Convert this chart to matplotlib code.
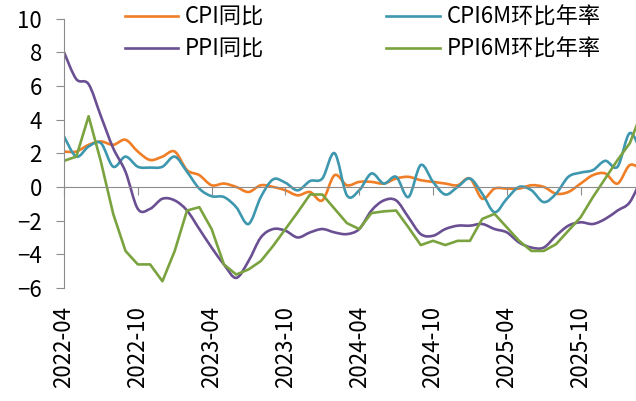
import numpy as np
import pandas as pd
import matplotlib
matplotlib.use('Agg')
import matplotlib.pyplot as plt
from matplotlib.path import Path
from matplotlib.patches import PathPatch
from matplotlib.lines import Line2D

plt.rcParams['font.family'] = ['Noto Sans CJK SC', 'DejaVu Sans']

months = list(pd.period_range('2022-04', periods=48, freq='M').strftime('%Y-%m'))

cpi_yoy = [2.1, 2.1, 2.5, 2.7, 2.5, 2.8, 2.1, 1.6, 1.8, 2.1,
           1.0, 0.7, 0.1, 0.2, 0.0, -0.3, 0.1, 0.0, -0.2, -0.5,
           -0.3, -0.8, 0.7, 0.1, 0.3, 0.3, 0.2, 0.5, 0.6, 0.4,
           0.3, 0.2, 0.1, 0.5, -0.7, -0.1, -0.1, -0.1, 0.1, 0.0,
           -0.4, -0.3, 0.2, 0.7, 0.8, 0.2, 1.3, 1.0]
ppi_yoy = [8.0, 6.4, 6.1, 4.2, 2.3, 0.9, -1.3, -1.3, -0.7, -0.8,
           -1.4, -2.5, -3.6, -4.6, -5.4, -4.4, -3.0, -2.5, -2.6, -3.0,
           -2.7, -2.5, -2.7, -2.8, -2.5, -1.4, -0.8, -0.8, -1.8, -2.8,
           -2.9, -2.5, -2.3, -2.3, -2.2, -2.5, -2.7, -3.3, -3.6, -3.6,
           -2.9, -2.3, -2.1, -2.2, -1.9, -1.4, -0.9, 0.6]
cpi_6m = [3.0, 1.8, 2.4, 2.6, 1.2, 1.8, 1.2, 1.15, 1.2, 1.8,
          0.9, -0.1, -0.55, -0.6, -1.2, -2.2, -0.6, 0.45, 0.25, -0.2,
          0.35, 0.5, 2.0, -0.5, -0.2, 0.8, 0.2, 0.6, -0.6, 1.3,
          0.3, -0.45, 0.0, 0.5, -0.4, -1.5, -0.7, 0.0, -0.2, -0.9,
          -0.4, 0.6, 0.85, 1.0, 1.55, 1.2, 3.2, 1.9]
ppi_6m = [1.55, 1.8, 4.2, 1.5, -1.6, -3.8, -4.6, -4.6, -5.6, -3.8,
          -1.4, -1.2, -2.5, -4.6, -5.2, -4.9, -4.4, -3.5, -2.5, -1.5,
          -0.45, -0.45, -1.3, -2.15, -2.5, -1.55, -1.45, -1.4, -2.4, -3.45,
          -3.2, -3.45, -3.2, -3.2, -1.9, -1.6, -2.4, -3.2, -3.8, -3.8,
          -3.4, -2.6, -1.8, -0.6, 0.5, 1.6, 2.6, 4.5]

c_cpi = '#F07E26'
c_ppi = '#6B4F93'
c_cpi6 = '#3D97AE'
c_ppi6 = '#7AA33F'


def smooth_path(xs, ys):
    # excel-style smoothed line as cubic bezier segments
    verts = [(xs[0], ys[0])]
    codes = [Path.MOVETO]
    n = len(xs)
    for i in range(n - 1):
        x0, y0 = xs[i], ys[i]
        x1, y1 = xs[i + 1], ys[i + 1]
        xp, yp = (xs[i - 1], ys[i - 1]) if i > 0 else (x0, y0)
        xn, yn = (xs[i + 2], ys[i + 2]) if i + 2 < n else (x1, y1)
        verts.append((x0 + (x1 - xp) / 6, y0 + (y1 - yp) / 6))
        verts.append((x1 - (xn - x0) / 6, y1 - (yn - y0) / 6))
        verts.append((x1, y1))
        codes += [Path.CURVE4] * 3
    return Path(verts, codes)


fig = plt.figure(figsize=(6.36, 4.01), dpi=100)
ax = fig.add_axes([64 / 636, 1 - 288 / 401, 1 - 64 / 636, (288 - 18.5) / 401])

x = np.arange(len(months))
lw = 1.9
for vals, col in [(cpi_yoy, c_cpi), (cpi_6m, c_cpi6), (ppi_yoy, c_ppi)]:
    ax.add_patch(PathPatch(smooth_path(x, vals), fill=False, edgecolor=col,
                           lw=lw, joinstyle='round', capstyle='round'))
ax.plot(x, ppi_6m, color=c_ppi6, lw=lw)

ax.set_xlim(0, 46.5)
ax.set_ylim(-6, 10)
ax.set_yticks(np.arange(-6, 11, 2))

for s in ['top', 'right']:
    ax.spines[s].set_visible(False)
ax.spines['left'].set_color('#8c8c8c')
ax.spines['bottom'].set_color('#8c8c8c')
ax.spines['bottom'].set_position(('data', 0))

tick_pos = x[::6][:8]
ax.set_xticks(tick_pos)
ax.tick_params(axis='x', direction='out', length=6, color='#8c8c8c', labelbottom=False)
ax.tick_params(axis='y', direction='out', length=6, color='#8c8c8c', labelsize=16, pad=10)

sec = ax.secondary_xaxis('bottom')
sec.set_xticks(tick_pos, [months[i] for i in tick_pos], rotation=90, fontsize=16)
sec.tick_params(length=0, pad=13)
sec.spines['bottom'].set_visible(False)

handles = [Line2D([], [], color=c_cpi, lw=lw), Line2D([], [], color=c_ppi, lw=lw),
           Line2D([], [], color=c_cpi6, lw=lw), Line2D([], [], color=c_ppi6, lw=lw)]
labels = ['CPI同比', 'PPI同比', 'CPI6M环比年率', 'PPI6M环比年率']
fig.legend(handles, labels, loc='upper left', bbox_to_anchor=(125 / 636, 0.985),
           ncol=2, frameon=False, fontsize=16, handlelength=2.4, handletextpad=0.3,
           columnspacing=5.5, labelspacing=0.4, borderpad=0, borderaxespad=0)

fig.savefig('out.png', dpi=100)
